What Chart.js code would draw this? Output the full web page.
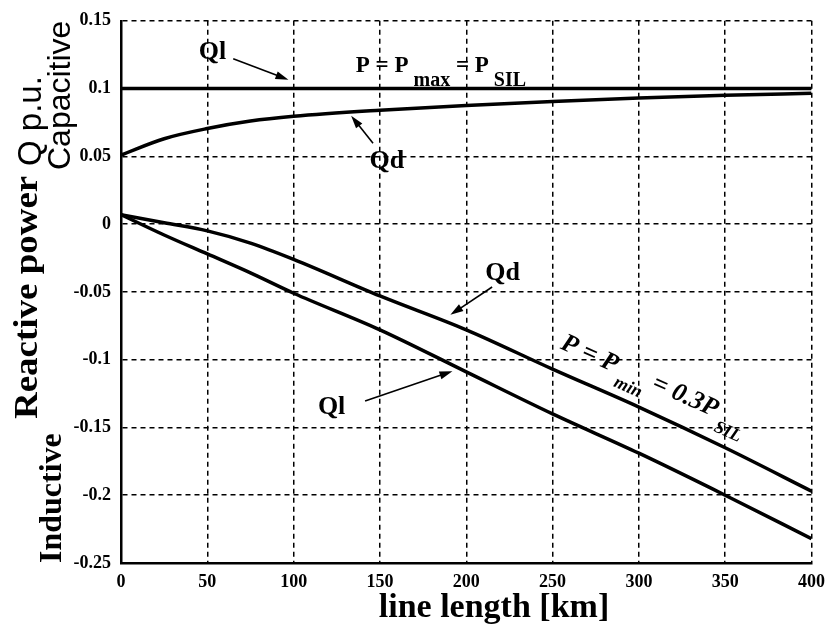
<!DOCTYPE html>
<html>
<head>
<meta charset="utf-8">
<script src="https://cdn.jsdelivr.net/npm/chart.js@4.4.0/dist/chart.umd.min.js"></script>
<style>
    html, body { margin: 0; padding: 0; background: #fff; }
    #wrap { width: 834px; height: 633px; position: relative; }
</style>
</head>
<body>
<div id="wrap"><canvas id="chart"></canvas></div>
<script>
// line length [km]
const lengthKm = [0, 25, 50, 75, 100, 150, 200, 250, 300, 350, 400];

// P = Pmax = PSIL
const qlMax = [0.1, 0.1, 0.1, 0.1, 0.1, 0.1, 0.1, 0.1, 0.1, 0.1, 0.1];
const qdMax = [0.051, 0.063, 0.0705, 0.076, 0.0795, 0.084, 0.0875, 0.0905, 0.093, 0.095, 0.0965];

// P = Pmin = 0.3 PSIL
const qdMin = [0.007, 0.001, -0.005, -0.014, -0.026, -0.053, -0.078, -0.107, -0.135, -0.165, -0.197];
const qlMin = [0.007, -0.008, -0.022, -0.036, -0.051, -0.078, -0.109, -0.14, -0.169, -0.2, -0.232];

const xTicks = [0, 50, 100, 150, 200, 250, 300, 350, 400];
const yTicks = [-0.25, -0.2, -0.15, -0.1, -0.05, 0, 0.05, 0.1, 0.15];

const SERIF = '"Liberation Serif", "Times New Roman", serif';
const SANS = '"Liberation Sans", Arial, sans-serif';

function toPoints(values) {
    return lengthKm.map((x, i) => ({ x: x, y: values[i] }));
}

function curve(values) {
    return {
        data: toPoints(values),
        borderColor: '#000',
        borderWidth: 3.5,
        pointRadius: 0,
        fill: false,
        cubicInterpolationMode: 'monotone'
    };
}

function arrow(ctx, x1, y1, x2, y2) {
    const a = Math.atan2(y2 - y1, x2 - x1);
    const len = 13, half = 4;
    ctx.beginPath();
    ctx.moveTo(x1, y1);
    ctx.lineTo(x2 - len * 0.8 * Math.cos(a), y2 - len * 0.8 * Math.sin(a));
    ctx.lineWidth = 1.6;
    ctx.stroke();
    ctx.beginPath();
    ctx.moveTo(x2, y2);
    ctx.lineTo(x2 - len * Math.cos(a) + half * Math.sin(a), y2 - len * Math.sin(a) - half * Math.cos(a));
    ctx.lineTo(x2 - len * Math.cos(a) - half * Math.sin(a), y2 - len * Math.sin(a) + half * Math.cos(a));
    ctx.closePath();
    ctx.fill();
}

// text with subscripts: parts = [[text, isSub], ...]
function subText(ctx, x, y, parts, font, subFont, subDrop) {
    let cx = x;
    parts.forEach(([t, sub]) => {
        ctx.font = sub ? subFont : font;
        ctx.fillText(t, cx, sub ? y + subDrop : y);
        cx += ctx.measureText(t).width;
    });
}

// rotated (bottom to top) text, stretched along its run by k
function upText(ctx, text, x, y, font, k) {
    ctx.save();
    ctx.translate(x, y);
    ctx.rotate(-Math.PI / 2);
    ctx.scale(k || 1, 1);
    ctx.font = font;
    ctx.fillText(text, 0, 0);
    ctx.restore();
}

const labelsPlugin = {
    id: 'labels',
    afterDraw(chart) {
        const ctx = chart.ctx;
        const sx = chart.scales.x, sy = chart.scales.y;
        const px = v => sx.getPixelForValue(v);
        const py = v => sy.getPixelForValue(v);
        ctx.save();
        ctx.fillStyle = '#000';
        ctx.strokeStyle = '#000';
        ctx.textAlign = 'left';
        ctx.textBaseline = 'alphabetic';

        // y axis titles
        upText(ctx, 'Reactive power', 37, 419, 'bold 33px ' + SERIF, 1.12);
        upText(ctx, 'Q p.u.', 41, 166, '33px ' + SANS, 1);
        upText(ctx, 'Capacitive', 70, 170, '32px ' + SANS, 1);
        upText(ctx, 'Inductive', 61, 563, 'bold 32px ' + SERIF, 1);

        // x axis title
        ctx.textAlign = 'center';
        ctx.font = 'bold 34px ' + SERIF;
        ctx.fillText('line length [km]', 494, 617);

        // curve labels
        ctx.textBaseline = 'middle';
        ctx.font = 'bold 26px ' + SERIF;
        ctx.fillText('Ql', px(53), py(0.127));
        ctx.fillText('Qd', px(154), py(0.0464));
        ctx.fillText('Qd', px(221), py(-0.036));
        ctx.fillText('Ql', px(122), py(-0.135));

        arrow(ctx, px(65), py(0.122), px(97), py(0.1065));
        arrow(ctx, px(146), py(0.0596), px(133.3), py(0.08));
        arrow(ctx, px(215), py(-0.0464), px(190.8), py(-0.0669));
        arrow(ctx, px(141.4), py(-0.1305), px(192), py(-0.1085));

        // operating point captions
        ctx.textAlign = 'left';
        ctx.textBaseline = 'alphabetic';
        subText(ctx, px(136), py(0.1125),
            [['P = P', false], [' max', true], [' = P', false], [' SIL', true]],
            'bold 23px ' + SERIF, 'bold 20px ' + SERIF, 14);

        ctx.save();
        ctx.translate(px(254), py(-0.0915));
        ctx.rotate(24 * Math.PI / 180);
        subText(ctx, 0, 0,
            [['P = P', false], [' min', true], [' = 0.3P', false], [' SIL', true]],
            'italic bold 26px ' + SERIF, 'italic bold 18px ' + SERIF, 13);
        ctx.restore();

        ctx.restore();
    }
};

new Chart(document.getElementById('chart'), {
    type: 'line',
    data: {
        datasets: [curve(qlMax), curve(qdMax), curve(qdMin), curve(qlMin)]
    },
    options: {
        responsive: true,
        maintainAspectRatio: false,
        animation: false,
        layout: { padding: { top: 16, right: 17, left: 0, bottom: 0 } },
        plugins: {
            legend: { display: false },
            tooltip: { enabled: false }
        },
        scales: {
            x: {
                type: 'linear',
                min: 0,
                max: 400,
                afterBuildTicks: s => { s.ticks = xTicks.map(v => ({ value: v })); },
                afterFit: s => { s.height = 70; },
                grid: { color: '#000', lineWidth: 1.5, drawTicks: false },
                border: { display: true, color: '#000', width: 2.5, dash: [5, 4] },
                ticks: {
                    color: '#000',
                    padding: 9,
                    maxRotation: 0,
                    font: { family: SERIF, size: 18, weight: 'bold' }
                }
            },
            y: {
                min: -0.25,
                max: 0.15,
                afterBuildTicks: s => { s.ticks = yTicks.map(v => ({ value: v })); },
                afterFit: s => { s.width = 121; },
                grid: { color: '#000', lineWidth: 1.5, drawTicks: false },
                border: { display: true, color: '#000', width: 2.5, dash: [5, 4] },
                ticks: {
                    color: '#000',
                    padding: 10,
                    callback: v => String(v),
                    font: { family: SERIF, size: 18, weight: 'bold' }
                }
            }
        }
    },
    plugins: [labelsPlugin]
});
</script>
</body>
</html>
